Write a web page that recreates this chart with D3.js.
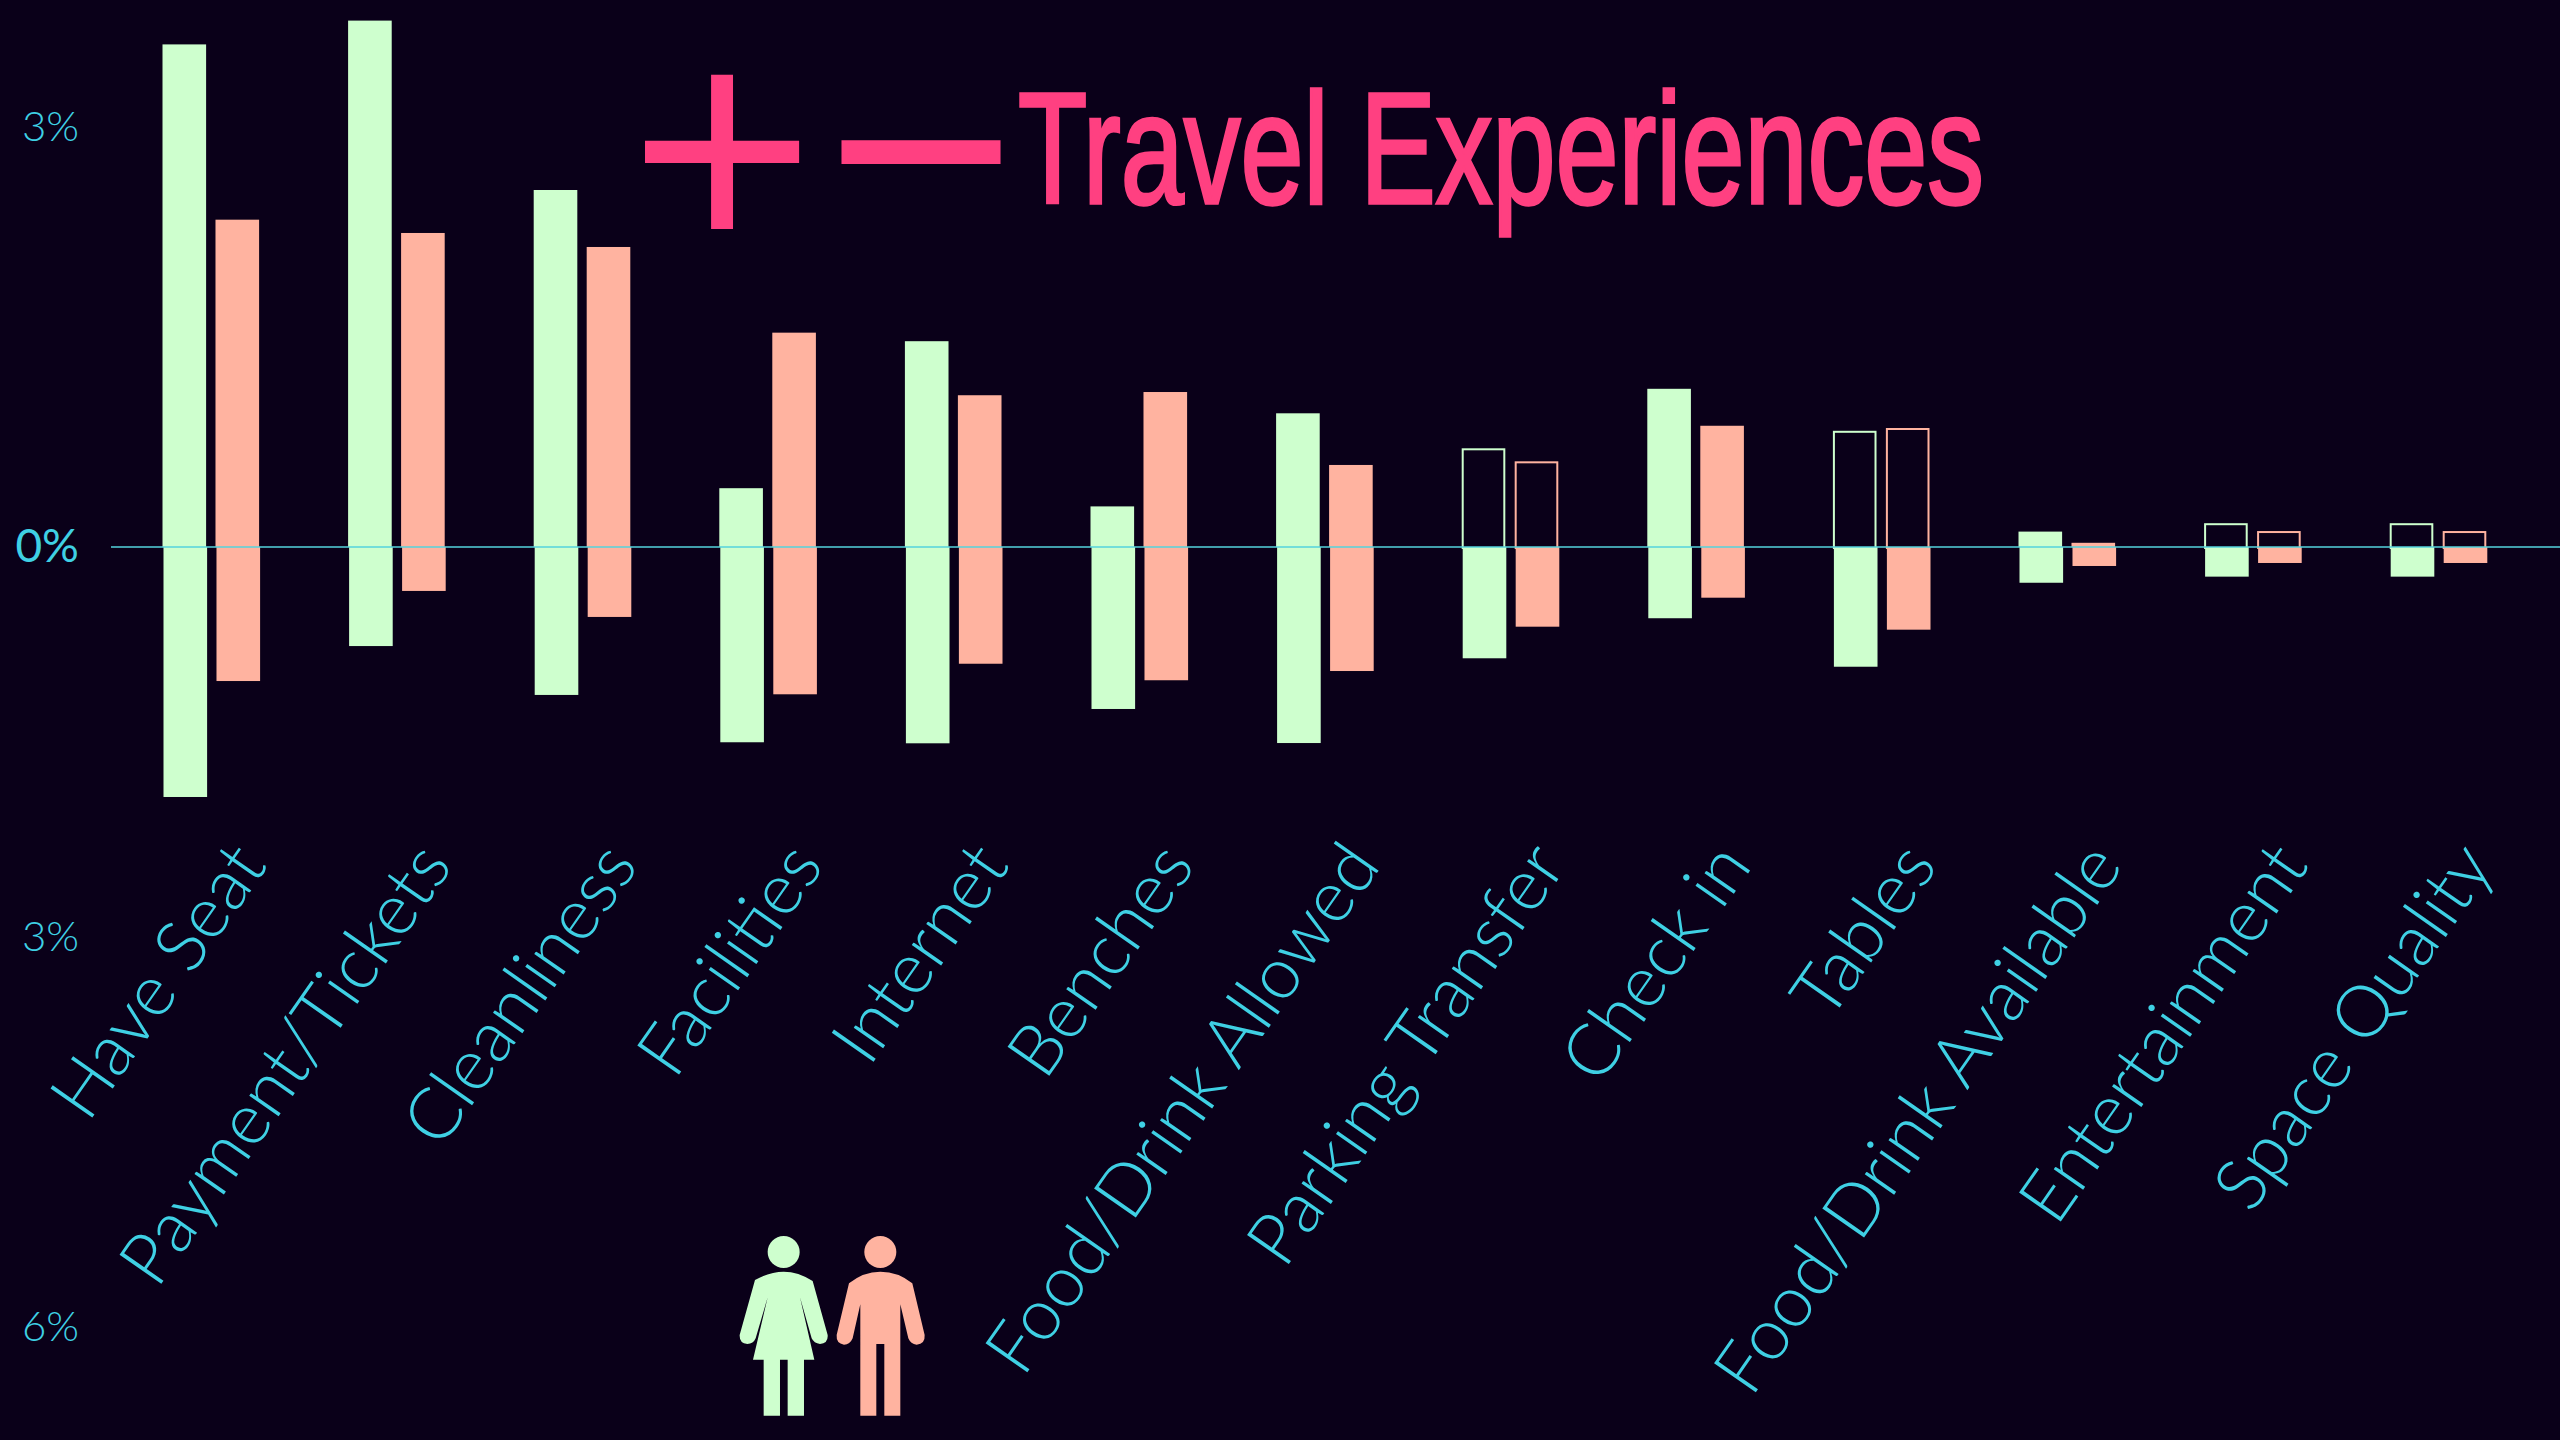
<!DOCTYPE html>
<html>
<head>
<meta charset="utf-8">
<script src="https://cdn.jsdelivr.net/npm/d3@7"></script>
<style>
  body { margin: 0; background: #0a0019; }
</style>
</head>
<body>
<svg width="2560" height="1440"></svg>
<script>
// Step 1: the data, in percent
const categories = ["Have Seat", "Payment/Tickets", "Cleanliness", "Facilities", "Internet", "Benches",
  "Food/Drink Allowed", "Parking Transfer", "Check in", "Tables", "Food/Drink Available", "Entertainment", "Space Quality"];
const femaleUp = [3.59, 3.76, 2.55, 0.42, 1.47, 0.29, 0.955, 0.705, 1.13, 0.83, 0.11, 0.17, 0.17];
const maleUp = [2.338, 2.243, 2.143, 1.531, 1.084, 1.107, 0.586, 0.612, 0.866, 0.85, 0.03, 0.114, 0.114];
const femaleDown = [1.923, 0.762, 1.138, 1.502, 1.51, 1.246, 1.508, 0.856, 0.548, 0.921, 0.275, 0.228, 0.228];
const maleDown = [1.031, 0.338, 0.538, 1.133, 0.898, 1.025, 0.954, 0.613, 0.39, 0.636, 0.146, 0.123, 0.123];
const outlined = ["Parking Transfer", "Tables", "Entertainment", "Space Quality"];
const groups = ["female", "male"];
const yTicks = [3, 0, -3, -6];

const green = "#ceffce", salmon = "#ffb3a0", pink = "#ff4081", cyan = "#3fd0e4";
const color = d3.scaleOrdinal().domain(groups).range([green, salmon]);

// Step 2: scales (the up and the down side of the chart are not drawn to the same scale)
const y = d3.scaleLinear().domain([-6, 0, 3]).range([1327, 547, 127]);
const x = d3.scaleBand().domain(categories).range([162.5, 162.5 + 13 * 185.6]);
const xInner = d3.scaleBand().domain(groups).range([0, 96.6]).paddingInner(0.177);

const svg = d3.select("svg");
const rows = categories.flatMap((c, i) => [
  { cat: c, group: "female", up: femaleUp[i], down: femaleDown[i] },
  { cat: c, group: "male", up: maleUp[i], down: maleDown[i] }
]);

// Step 3: bars above the line
svg.append("g").selectAll("rect").data(rows).enter().append("rect")
  .attr("x", d => x(d.cat) + xInner(d.group) + (outlined.includes(d.cat) ? 1 : 0))
  .attr("y", d => y(d.up) + (outlined.includes(d.cat) ? 1 : 0))
  .attr("width", d => xInner.bandwidth() - (outlined.includes(d.cat) ? 2 : 0))
  .attr("height", d => y(0) - y(d.up))
  .attr("fill", d => outlined.includes(d.cat) ? "none" : color(d.group))
  .attr("stroke", d => outlined.includes(d.cat) ? color(d.group) : "none")
  .attr("stroke-width", 2);

// Step 4: bars below the line, they sit a bit to the right
svg.append("g").selectAll("rect").data(rows).enter().append("rect")
  .attr("x", d => x(d.cat) + xInner(d.group) + 1)
  .attr("y", y(0))
  .attr("width", xInner.bandwidth())
  .attr("height", d => y(-d.down) - y(0))
  .attr("fill", d => color(d.group));

// Step 5: zero line
svg.append("line")
  .attr("x1", 111).attr("x2", 2560)
  .attr("y1", y(0)).attr("y2", y(0))
  .attr("stroke", "#55d3dc").attr("stroke-width", 1.5);

// Step 6: axes, only the labels are kept
const yAxis = svg.append("g")
  .attr("transform", "translate(79,0)")
  .call(d3.axisLeft(y).tickValues(yTicks).tickSize(0).tickPadding(0).tickFormat(d => Math.abs(d) + "%"));
yAxis.select(".domain").remove();
yAxis.selectAll("text")
  .attr("fill", cyan)
  .style("font-family", "Lato")
  .style("font-weight", d => d === 0 ? 400 : 300)
  .style("font-size", d => d === 0 ? "46px" : "42px");

const xAxis = svg.append("g")
  .attr("transform", "translate(0,866)")
  .call(d3.axisBottom(x).tickSize(0).tickPadding(0));
xAxis.select(".domain").remove();
xAxis.selectAll("text")
  .attr("y", 0).attr("dy", 0)
  .attr("transform", "translate(13,0) rotate(-55)")
  .attr("text-anchor", "end")
  .attr("fill", cyan)
  .style("font-family", "Lato")
  .style("font-weight", 300)
  .style("font-size", "72px");

// Step 7: title
svg.append("text")
  .attr("x", 722).attr("y", 228)
  .attr("text-anchor", "middle")
  .attr("fill", pink).attr("stroke", pink).attr("stroke-width", 2)
  .style("font-family", "DejaVu Sans")
  .style("font-size", "243px")
  .text("+");
svg.append("text")
  .attr("x", 848.4).attr("y", 189)
  .attr("fill", pink).attr("stroke", pink).attr("stroke-width", 14)
  .attr("stroke-linejoin", "miter")
  .style("font-family", "Liberation Sans")
  .style("font-size", "145px")
  .text("—");
svg.append("text")
  .attr("x", 1018).attr("y", 203)
  .attr("textLength", 966).attr("lengthAdjust", "spacingAndGlyphs")
  .attr("fill", pink).attr("stroke", pink).attr("stroke-width", 3.5)
  .style("font-family", "Liberation Sans")
  .style("font-size", "157px")
  .text("Travel Experiences");

// Step 8: the two figures that stand for the series
const legend = svg.append("g").attr("transform", "translate(700,1200) scale(0.3333)");
legend.append("circle").attr("cx", 251).attr("cy", 156).attr("r", 48).attr("fill", green);
legend.append("circle").attr("cx", 541).attr("cy", 156).attr("r", 48).attr("fill", salmon);
legend.append("path").attr("fill", green)
  .attr("d", "M165,240Q210,215 251,215Q295,215 338,243L383,405Q385,430 360,432Q342,430 335,415L300,292L343,479L312,479L312,647L263,647L263,479L240,479L240,647L191,647L191,479L159,479L203,292L167,415Q160,432 142,432Q118,430 119,405Z");
legend.append("path").attr("fill", salmon)
  .attr("d", "M447,250Q490,215 541,215Q595,215 637,250L674,405Q676,432 650,434Q632,432 625,415L601,313L601,647L553,647L553,432L529,432L529,647L481,647L481,313L458,415Q450,434 432,434Q408,430 410,405Z");
</script>
</body>
</html>
